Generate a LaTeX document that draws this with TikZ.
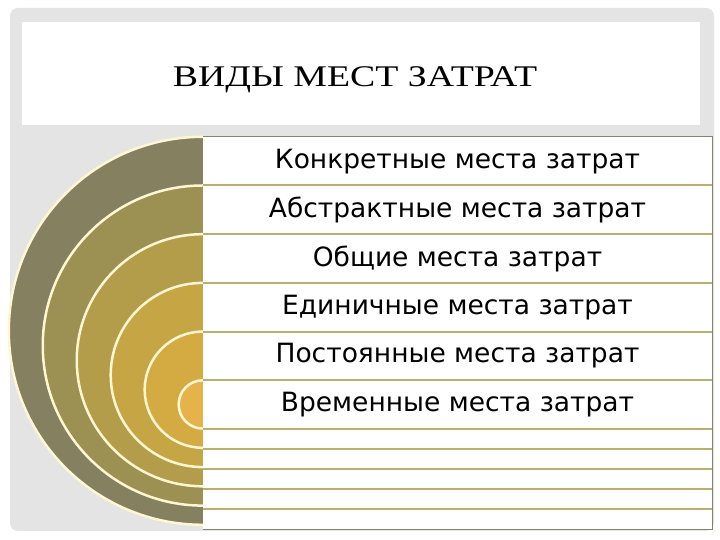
\documentclass[tikz,border=0pt]{standalone}
\usepackage{fontspec}
\setmainfont{DejaVu Sans}
\newfontfamily\titlefont[FakeStretch=1.26]{Liberation Serif}
\usetikzlibrary{positioning}

\definecolor{slidegrey}{HTML}{E4E4E4}
\definecolor{ringline}{HTML}{FFF6D2}
\definecolor{rowline}{HTML}{BBAE6E}
\definecolor{tableborder}{HTML}{86846A}
\definecolor{bandA}{HTML}{858060}
\definecolor{bandB}{HTML}{9C9052}
\definecolor{bandC}{HTML}{B39D4A}
\definecolor{bandD}{HTML}{C6A545}
\definecolor{bandE}{HTML}{D4AA43}
\definecolor{bandF}{HTML}{E6B24A}

\begin{document}
\begin{tikzpicture}[x=1pt,y=1pt,
    row/.style={fill=white,minimum width=509pt,minimum height=48.3pt,inner sep=0pt,
      font=\fontsize{26.5}{30}\selectfont},
    thinrow/.style={fill=white,minimum width=509pt,minimum height=19.64pt,inner sep=0pt}]
    \path[use as bounding box] (0,0) rectangle (720,540);
    % Slide.
    \fill[white] (0,0) rectangle (720,540);
    \fill[slidegrey,rounded corners=8pt] (10,9) rectangle (714,532);
    \fill[white] (22,415) rectangle (700,518);
    \node[anchor=base] (title) at (355,453) {\titlefont\fontsize{30}{34}\selectfont ВИДЫ МЕСТ ЗАТРАТ};
    % Rows.
    \node[row] (r1) at (457.5,378.85) {Конкретные места затрат};
    \node[row,below=0pt of r1] (r2) {Абстрактные места затрат};
    \node[row,below=0pt of r2] (r3) {Общие места затрат};
    \node[row,below=0pt of r3] (r4) {Единичные места затрат};
    \node[row,below=0pt of r4] (r5) {Постоянные места затрат};
    \node[row,below=0pt of r5] (r6) {Временные места затрат};
    \node[thinrow,below=0pt of r6] (e1) {};
    \node[thinrow,below=0pt of e1] (e2) {};
    \node[thinrow,below=0pt of e2] (e3) {};
    \node[thinrow,below=0pt of e3] (e4) {};
    \node[thinrow,below=0pt of e4] (e5) {};
    \foreach \n in {r1,r2,r3,r4,r5,r6,e1,e2,e3,e4}
    \draw[rowline,line width=2pt] (\n.south west) -- (\n.south east);
    \draw[tableborder,line width=1.3pt] (r1.north west) -- (r1.north east) -- (e5.south east) -- (e5.south west);
    % Rings.
    \foreach \n/\r/\c in {r1/194/bandA,r2/160.05/bandB,r3/126.05/bandC,
                          r4/92.1/bandD,r5/58.1/bandE,r6/24.15/bandF}{
      \fill[\c] (\n.north west) arc[start angle=90,end angle=270,radius=\r] -- cycle;
      \draw[ringline,line width=2.5pt] (\n.north west) arc[start angle=90,end angle=270,radius=\r];
    }
  \end{tikzpicture}
\end{document}
